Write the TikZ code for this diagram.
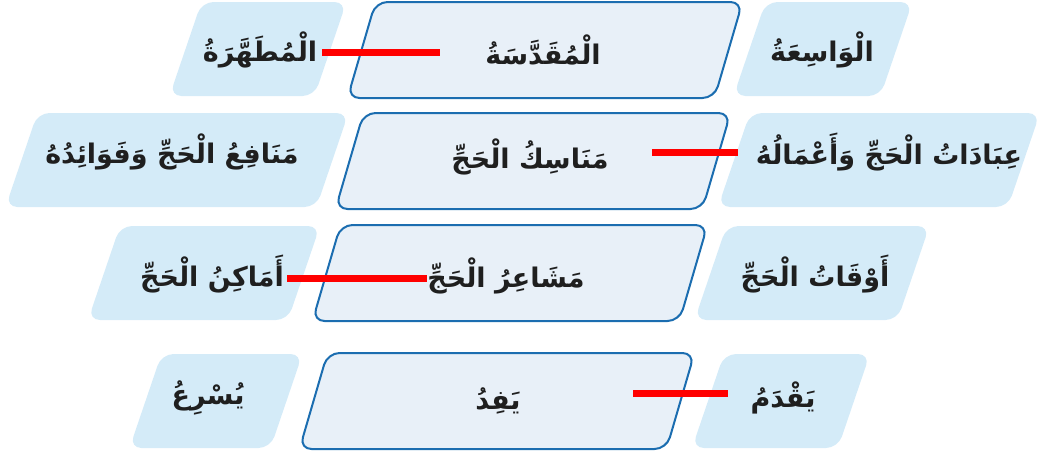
\documentclass[tikz,border=0pt]{standalone}
\usepackage{fontspec}
\newfontfamily\arabicfont[Script=Arabic]{DejaVu Sans}
\TeXXeTstate=1
\definecolor{kernblue}{HTML}{1B6DB0}
\definecolor{kernfill}{HTML}{E8F0F8}
\definecolor{sidefill}{HTML}{D4EBF8}
\definecolor{matchred}{HTML}{FF0000}
\newcommand{\artext}[1]{{\arabicfont\bfseries\beginR #1\endR}}
% style, x, y, half width, half height, half slant
\newcommand{\slantbox}[6]{\path[#1] ({#2-#4+#6},{#3-#5}) -- ({#2+#4+#6},{#3-#5})
  -- ({#2+#4-#6},{#3+#5}) -- ({#2-#4-#6},{#3+#5}) -- cycle;}

\begin{document}
\begin{tikzpicture}
[x=1pt,y=-1pt,
 kern/.style={draw=kernblue,line width=2pt,fill=kernfill,rounded corners=12pt},
 side/.style={fill=sidefill,rounded corners=12pt},
 word/.style={text=black!88,font=\fontsize{27}{32}\selectfont},
 match/.style={draw=matchred,line width=7pt}]
\useasboundingbox (0,0) rectangle (1044,456);

% side boxes
\slantbox{side}{258}{49}{72.5}{47}{16}
\slantbox{side}{823}{49}{73.5}{47}{16}
\slantbox{side}{177}{160}{155.5}{47}{16}
\slantbox{side}{879}{160}{145}{47}{16}
\slantbox{side}{204}{273}{100}{47}{16}
\slantbox{side}{812}{273}{101.5}{47}{16}
\slantbox{side}{216}{401}{70.5}{47}{16}
\slantbox{side}{781}{401}{73}{47}{16}

% middle boxes
\slantbox{kern}{545}{50}{183.5}{48}{14}
\slantbox{kern}{533}{161}{183.5}{48}{14}
\slantbox{kern}{510}{273}{183.5}{48}{14}
\slantbox{kern}{497}{401}{183.5}{48}{14}

% words
\node[word] (w1l) at (260,50) {\artext{الْمُطَهَّرَةُ}};
\node[word] (w1k) at (543,50) {\artext{الْمُقَدَّسَةُ}};
\node[word] (w1r) at (822,50) {\artext{الْوَاسِعَةُ}};
\node[word] (w2l) at (172,152) {\artext{مَنَافِعُ الْحَجِّ وَفَوَائِدُهُ}};
\node[word] (w2k) at (530,157) {\artext{مَنَاسِكُ الْحَجِّ}};
\node[word] (w2r) at (889,152) {\artext{عِبَادَاتُ الْحَجِّ وَأَعْمَالُهُ}};
\node[word] (w3l) at (212,274) {\artext{أَمَاكِنُ الْحَجِّ}};
\node[word] (w3k) at (506,276) {\artext{مَشَاعِرُ الْحَجِّ}};
\node[word] (w3r) at (815,274) {\artext{أَوْقَاتُ الْحَجِّ}};
\node[word] (w4l) at (208,398) {\artext{يُسْرِعُ}};
\node[word] (w4k) at (498,401) {\artext{يَفِدُ}};
\node[word] (w4r) at (783,398) {\artext{يَقْدَمُ}};

% red matching lines
\coordinate (m1a) at (322,52);
\coordinate (m1b) at (440,52);
\coordinate (m2a) at (652,152);
\coordinate (m2b) at (738,152);
\coordinate (m3a) at (287,278);
\coordinate (m3b) at (427,278);
\coordinate (m4a) at (633,393);
\coordinate (m4b) at (728,393);
\draw[match] (m1a) -- (m1b);
\draw[match] (m2a) -- (m2b);
\draw[match] (m3a) -- (m3b);
\draw[match] (m4a) -- (m4b);
\end{tikzpicture}
\end{document}
